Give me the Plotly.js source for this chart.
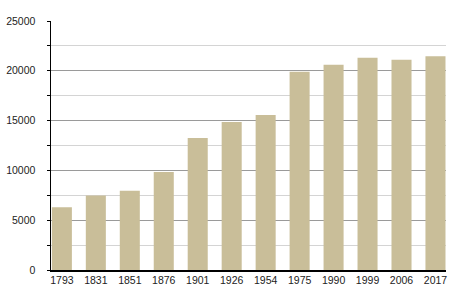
<!DOCTYPE html>
<html><head><meta charset="utf-8">
<script src="https://cdn.plot.ly/plotly-3.0.1.min.js"></script>
<style>html,body{margin:0;padding:0;background:#fff}#chart{width:455px;height:300px}</style>
</head><body><div id="chart"></div>
<script>
const years = ['1793','1831','1851','1876','1901','1926','1954','1975','1990','1999','2006','2017'];
const population = [6300, 7470, 7950, 9850, 13250, 14850, 15550, 19900, 20600, 21300, 21100, 21450];
const yTicks = [0, 5000, 10000, 15000, 20000, 25000];

Plotly.newPlot('chart', [{
  type: 'bar',
  x: years,
  y: population,
  marker: {color: '#c9be99', line: {width: 0}},
  hoverinfo: 'none'
}], {
  width: 455, height: 300,
  margin: {l: 50.5, r: 9, t: 20.5, b: 30, pad: 0},
  paper_bgcolor: '#fff', plot_bgcolor: '#fff',
  bargap: 0.41,
  showlegend: false,
  font: {family: 'Liberation Sans, Arial, sans-serif', size: 10.5, color: '#222'},
  xaxis: {
    type: 'category', range: [-0.32, 11.31],
    showline: true, linecolor: '#000', linewidth: 1.5,
    showgrid: false, zeroline: false, ticks: '',
    ticklabelstandoff: 0,
    tickfont: {size: 10.5, color: '#222'}
  },
  yaxis: {
    range: [0, 25000],
    tickvals: yTicks, ticktext: yTicks.map(String),
    showline: true, linecolor: '#000', linewidth: 1.5,
    showgrid: true, gridcolor: '#9a9a9a', gridwidth: 1,
    zeroline: false, ticks: '',
    ticklabelstandoff: 12,
    tickfont: {size: 10.5, color: '#222'},
    minor: {dtick: 2500, tick0: 0, showgrid: true, gridcolor: '#d4d4d4', gridwidth: 1, ticks: 'outside', ticklen: 3, tickcolor: '#000'}
  }
}, {staticPlot: true, displayModeBar: false});
</script></body></html>
